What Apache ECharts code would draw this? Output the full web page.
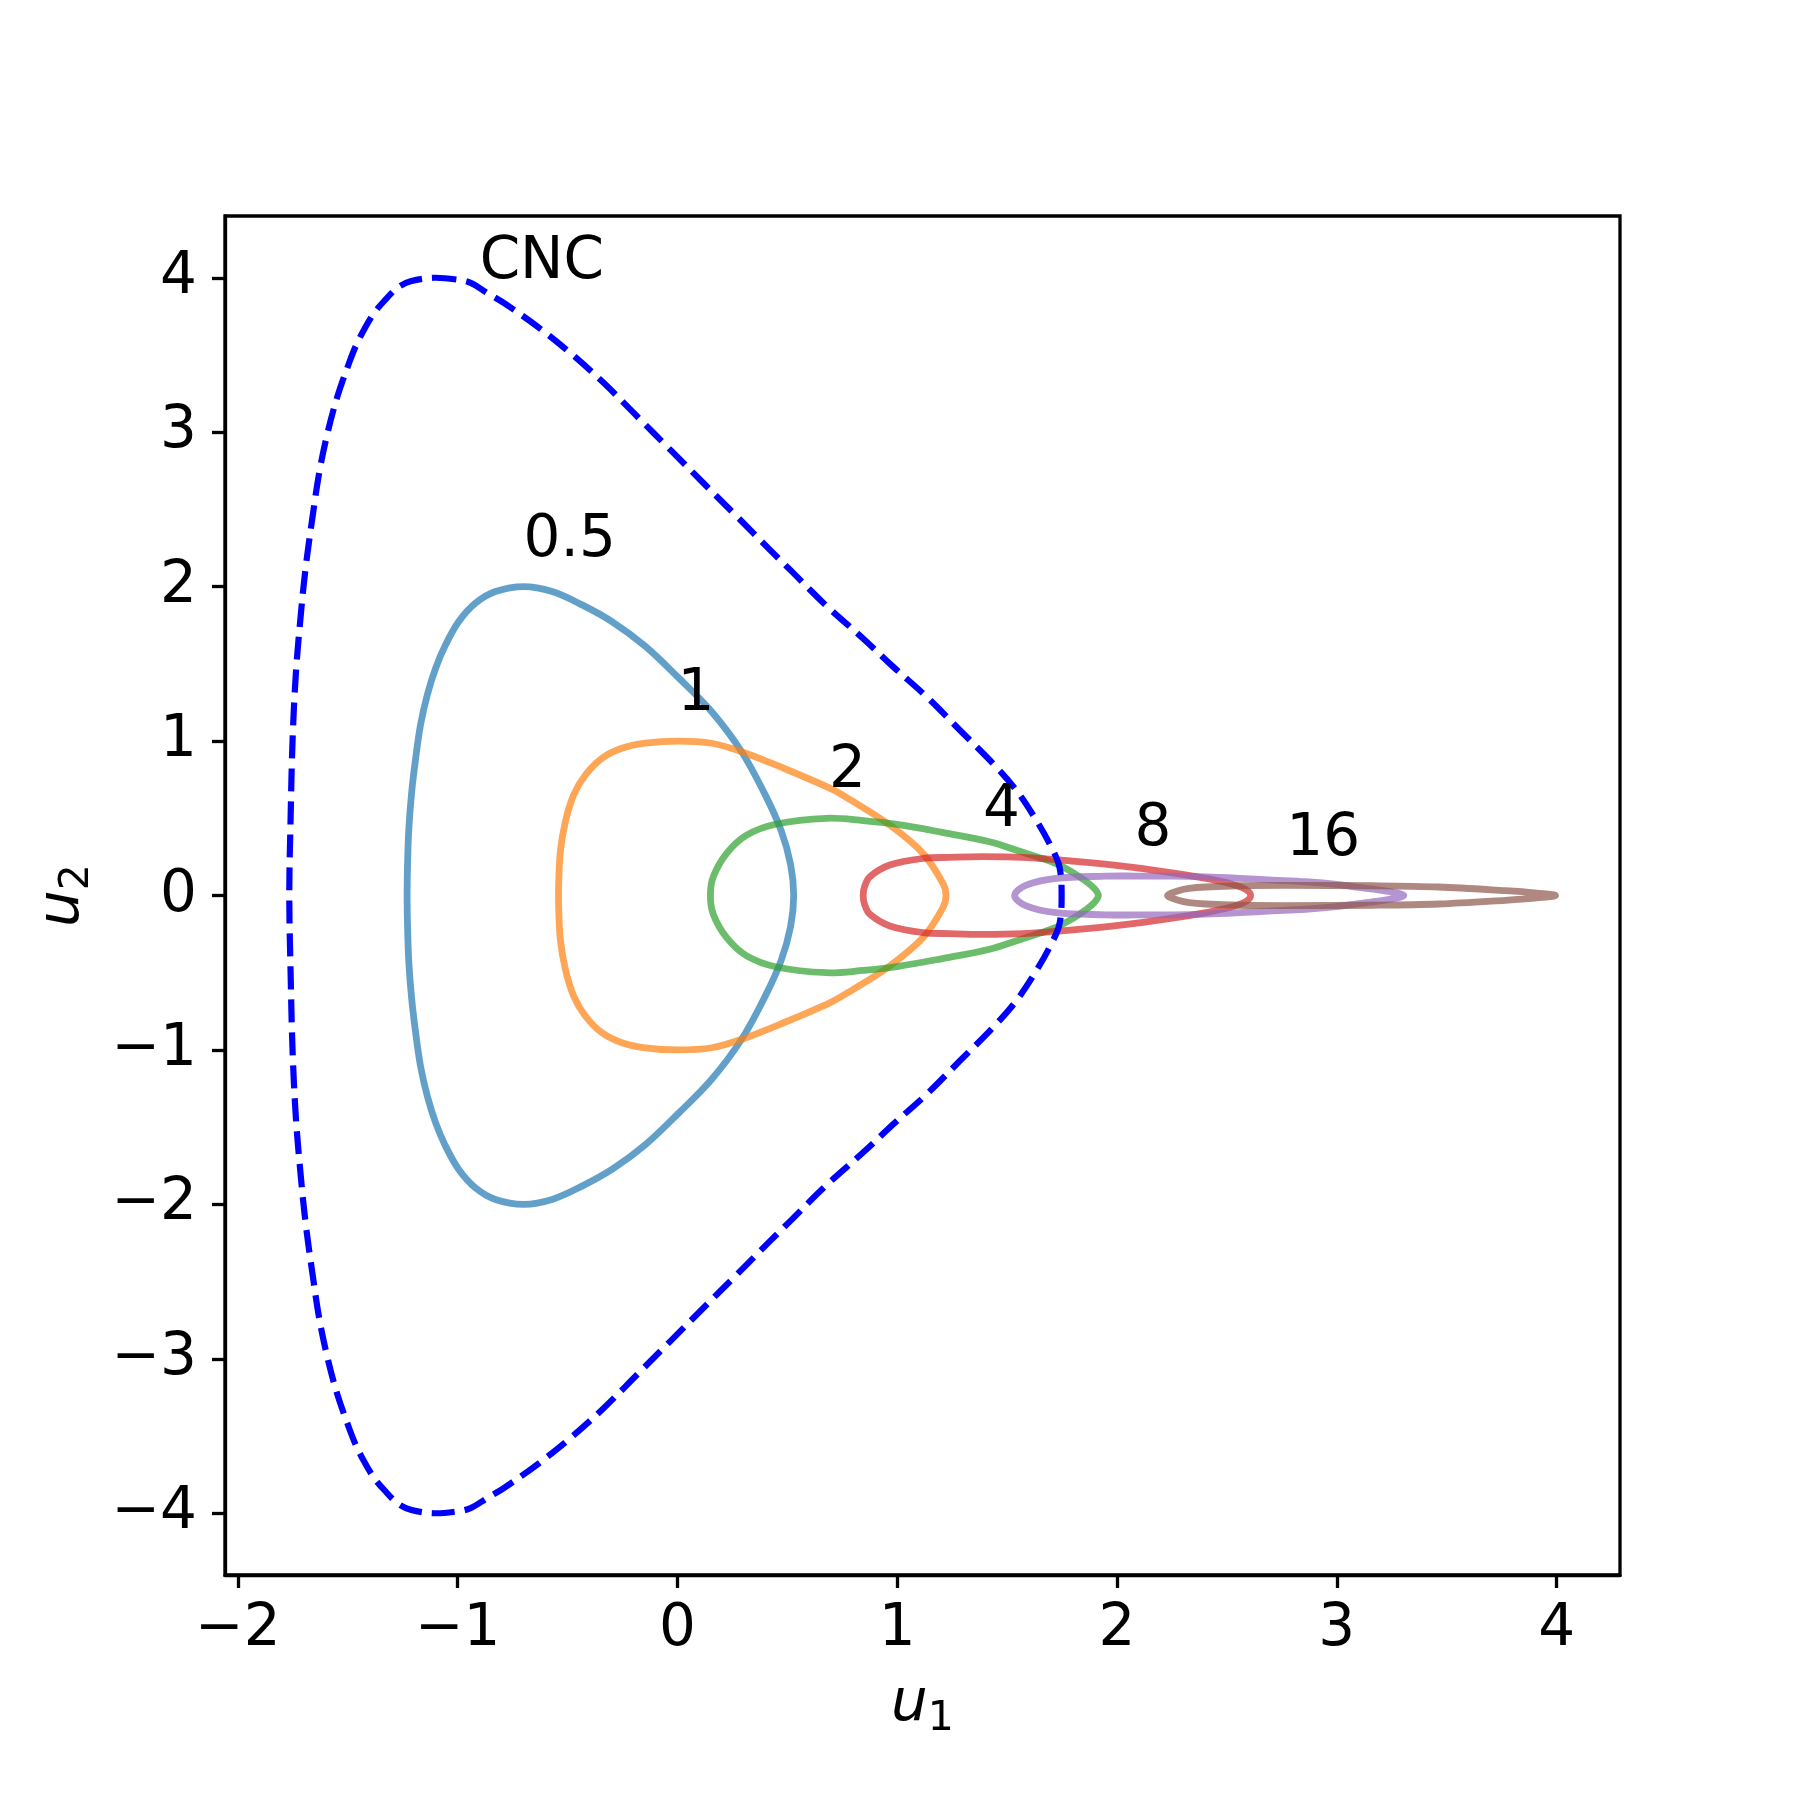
<!DOCTYPE html>
<html>
<head>
<meta charset="utf-8">
<script src="https://cdn.jsdelivr.net/npm/echarts@6/dist/echarts.min.js"></script>
<style>
  html, body { margin: 0; padding: 0; background: #fff; }
  #chart { width: 1800px; height: 1800px; }
</style>
</head>
<body>
<div id="chart"></div>
<script>
// axis ticks
var xTicks = [-2, -1, 0, 1, 2, 3, 4]
var yTicks = [-4, -3, -2, -1, 0, 1, 2, 3, 4]

// closed curves, [u1, u2] (the loop closes back to the first point)
var cncCurve = [
  [-1.11, 4.0], [-1.002, 3.988], [-0.941, 3.967], [-0.866, 3.902], [-0.790, 3.837], [-0.639, 3.686],
  [-0.487, 3.513], [-0.336, 3.32], [-0.184, 3.103], [-0.033, 2.887], [0.118, 2.671], [0.270, 2.455],
  [0.421, 2.238], [0.512, 2.11], [0.671, 1.885], [0.852, 1.655], [0.981, 1.482], [1.133, 1.288],
  [1.284, 1.072], [1.435, 0.856], [1.541, 0.683], [1.632, 0.489], [1.700, 0.316], [1.738, 0.186],
  [1.748, 0],
  [1.738, -0.186], [1.700, -0.316], [1.632, -0.489], [1.541, -0.683], [1.435, -0.856], [1.284, -1.072],
  [1.133, -1.288], [0.981, -1.482], [0.852, -1.655], [0.671, -1.885], [0.512, -2.11], [0.421, -2.238],
  [0.270, -2.455], [0.118, -2.671], [-0.033, -2.887], [-0.184, -3.103], [-0.336, -3.32], [-0.487, -3.513],
  [-0.639, -3.686], [-0.790, -3.837], [-0.866, -3.902], [-0.941, -3.967], [-1.002, -3.988], [-1.11, -4.0],
  [-1.214, -3.977], [-1.274, -3.935], [-1.335, -3.848], [-1.380, -3.772], [-1.426, -3.664], [-1.464, -3.556],
  [-1.494, -3.448], [-1.547, -3.232], [-1.592, -2.995], [-1.630, -2.736], [-1.660, -2.454], [-1.691, -2.13],
  [-1.713, -1.828], [-1.736, -1.439], [-1.751, -1.007], [-1.760, -0.5], [-1.766, 0],
  [-1.760, 0.5], [-1.751, 1.007], [-1.736, 1.439], [-1.713, 1.828], [-1.691, 2.13], [-1.660, 2.454],
  [-1.630, 2.736], [-1.592, 2.995], [-1.547, 3.232], [-1.494, 3.448], [-1.464, 3.556], [-1.426, 3.664],
  [-1.380, 3.772], [-1.335, 3.848], [-1.274, 3.935], [-1.214, 3.977]
]
var curve05 = [
  [-0.699, 2.0], [-0.570, 1.968], [-0.434, 1.882], [-0.298, 1.774], [-0.147, 1.615], [0.005, 1.41],
  [0.156, 1.19], [0.292, 0.931], [0.40, 0.65], [0.472, 0.42], [0.515, 0.2], [0.529, 0],
  [0.515, -0.2], [0.472, -0.42], [0.40, -0.65], [0.292, -0.931], [0.156, -1.19], [0.005, -1.41],
  [-0.147, -1.615], [-0.298, -1.774], [-0.434, -1.882], [-0.570, -1.968], [-0.699, -2.0], [-0.828, -1.968],
  [-0.919, -1.893], [-0.995, -1.774], [-1.055, -1.623], [-1.100, -1.472], [-1.138, -1.299], [-1.169, -1.104],
  [-1.191, -0.889], [-1.209, -0.672], [-1.222, -0.435], [-1.228, -0.197], [-1.23, 0],
  [-1.228, 0.197], [-1.222, 0.435], [-1.209, 0.672], [-1.191, 0.889], [-1.169, 1.104], [-1.138, 1.299],
  [-1.100, 1.472], [-1.055, 1.623], [-0.995, 1.774], [-0.919, 1.893], [-0.828, 1.968]
]
var curve1 = [
  [0, 1.0], [0.156, 0.986], [0.292, 0.931], [0.466, 0.834], [0.693, 0.695], [0.784, 0.622],
  [0.966, 0.456], [1.117, 0.273], [1.208, 0.078], [1.222, 0],
  [1.208, -0.078], [1.117, -0.273], [0.966, -0.456], [0.784, -0.622], [0.693, -0.695], [0.466, -0.834],
  [0.292, -0.931], [0.156, -0.986], [0, -1.0], [-0.147, -0.986], [-0.253, -0.953], [-0.343, -0.889],
  [-0.419, -0.780], [-0.472, -0.651], [-0.510, -0.478], [-0.533, -0.283], [-0.540, -0.089], [-0.541, 0],
  [-0.540, 0.089], [-0.533, 0.283], [-0.510, 0.478], [-0.472, 0.651], [-0.419, 0.780], [-0.343, 0.889],
  [-0.253, 0.953], [-0.147, 0.986]
]
var curve2 = [
  [0.678, 0.5], [0.845, 0.485], [1.0, 0.46], [1.2, 0.41], [1.42, 0.348], [1.55, 0.29],
  [1.647, 0.245], [1.725, 0.205], [1.798, 0.15], [1.86, 0.09], [1.897, 0.045], [1.915, 0],
  [1.897, -0.045], [1.86, -0.09], [1.798, -0.15], [1.725, -0.205], [1.647, -0.245], [1.55, -0.29],
  [1.42, -0.348], [1.2, -0.41], [1.0, -0.46], [0.845, -0.485], [0.678, -0.5], [0.451, -0.463],
  [0.315, -0.391], [0.224, -0.273], [0.163, -0.121], [0.150, 0],
  [0.163, 0.121], [0.224, 0.273], [0.315, 0.391], [0.451, 0.463]
]
var curve4 = [
  [1.386, 0.252], [1.571, 0.247], [1.798, 0.223], [2.025, 0.191], [2.252, 0.147], [2.404, 0.111],
  [2.52, 0.075], [2.585, 0.04], [2.608, 0],
  [2.585, -0.04], [2.52, -0.075], [2.404, -0.111], [2.252, -0.147], [2.025, -0.191], [1.798, -0.223],
  [1.571, -0.247], [1.386, -0.252], [1.238, -0.247], [1.117, -0.24], [0.966, -0.197], [0.875, -0.121],
  [0.852, -0.06], [0.845, 0],
  [0.852, 0.06], [0.875, 0.121], [0.966, 0.197], [1.117, 0.24], [1.238, 0.247]
]
var curve8 = [
  [2.08, 0.126], [2.252, 0.125], [2.404, 0.12], [2.555, 0.111], [2.707, 0.1], [2.858, 0.089],
  [3.010, 0.07], [3.1, 0.052], [3.22, 0.03], [3.305, 0],
  [3.22, -0.03], [3.1, -0.052], [3.010, -0.07], [2.858, -0.089], [2.707, -0.1], [2.555, -0.111],
  [2.404, -0.12], [2.252, -0.125], [2.08, -0.126], [1.95, -0.125], [1.723, -0.111], [1.587, -0.067],
  [1.534, 0],
  [1.587, 0.067], [1.723, 0.111], [1.95, 0.125]
]
var curve16 = [
  [2.77, 0.065], [3.161, 0.063], [3.464, 0.055], [3.767, 0.031], [3.9, 0.017], [3.995, 0],
  [3.9, -0.017], [3.767, -0.031], [3.464, -0.055], [3.161, -0.063], [2.77, -0.065], [2.555, -0.063],
  [2.404, -0.055], [2.328, -0.046], [2.283, -0.033], [2.230, 0],
  [2.283, 0.033], [2.328, 0.046], [2.404, 0.055], [2.555, 0.063]
]

// annotations
var noteText = ['CNC', '0.5', '1', '2', '4', '8', '16']
var noteX = [-0.9, -0.7, 0, 0.69, 1.39, 2.08, 2.77]
var noteY = [4.0, 2.2, 1.2, 0.7, 0.45, 0.325, 0.2625]

var FONT = 'DejaVu Sans'
var minus = function (v) { return String(v).replace('-', '\u2212') }

var chart = echarts.init(document.getElementById('chart'), null, { renderer: 'canvas' })

// one closed smooth loop per series, drawn through the cartesian scales
function loop(name, data, color, opts) {
  opts = opts || {}
  return {
    name: name,
    type: 'custom',
    coordinateSystem: 'cartesian2d',
    data: data,
    encode: { x: 0, y: 1 },
    silent: true,
    z: opts.z || 2,
    renderItem: function (params, api) {
      if (params.dataIndexInside !== 0) return
      var pts = data.map(function (p) { return api.coord(p) })
      return {
        type: 'polygon',
        shape: { points: pts, smooth: 0.35 },
        style: {
          fill: 'none',
          stroke: color,
          lineWidth: opts.width || 6.8,
          lineDash: opts.dash || null,
          lineJoin: 'round',
          opacity: opts.opacity == null ? 0.7 : opts.opacity
        }
      }
    }
  }
}

var notes = noteText.map(function (t, i) { return [noteX[i], noteY[i], t] })

var nameRich = {
  it: { fontStyle: 'italic', fontSize: 58, fontFamily: FONT, color: '#000' },
  sub: { fontSize: 41, fontFamily: FONT, color: '#000', padding: [30, 0, 0, 0] }
}

chart.setOption({
  animation: false,
  backgroundColor: '#fff',
  grid: {
    left: 225, right: 180, top: 216, bottom: 225,
    show: true, borderColor: '#000', borderWidth: 3.3,
    outerBoundsMode: 'none'
  },
  xAxis: {
    type: 'value',
    min: -2.0585,
    max: 4.2885,
    splitLine: { show: false },
    axisLine: { show: true, onZero: false, lineStyle: { color: '#000', width: 3.3 } },
    axisTick: { show: true, length: 13, customValues: xTicks, lineStyle: { color: '#000', width: 3.3 } },
    axisLabel: {
      customValues: xTicks, fontSize: 58, fontFamily: FONT, color: '#000', margin: 26,
      formatter: minus
    },
    name: '{it|u}{sub|1}',
    nameLocation: 'middle',
    nameGap: 94,
    nameTextStyle: { rich: nameRich }
  },
  yAxis: {
    type: 'value',
    min: -4.4,
    max: 4.4,
    splitLine: { show: false },
    axisLine: { show: true, onZero: false, lineStyle: { color: '#000', width: 3.3 } },
    axisTick: { show: true, length: 13, customValues: yTicks, lineStyle: { color: '#000', width: 3.3 } },
    axisLabel: {
      customValues: yTicks, fontSize: 58, fontFamily: FONT, color: '#000', margin: 28,
      formatter: minus
    },
    name: '{it|u}{sub|2}',
    nameLocation: 'middle',
    nameRotate: 90,
    nameGap: 127,
    nameTextStyle: { rich: nameRich }
  },
  series: [
    loop('0.5', curve05, '#1f77b4'),
    loop('1', curve1, '#ff7f0e'),
    loop('2', curve2, '#2ca02c'),
    loop('4', curve4, '#d62728'),
    loop('8', curve8, '#9467bd'),
    loop('16', curve16, '#8c564b'),
    loop('CNC', cncCurve, '#0000ff', { width: 6.2, dash: [23, 10], opacity: 1, z: 3 }),
    {
      type: 'scatter',
      data: notes,
      symbolSize: 0,
      itemStyle: { color: '#000', opacity: 1 },
      label: {
        show: true,
        position: 'right',
        distance: 0,
        offset: [0, -15],
        formatter: function (p) { return p.data[2] },
        fontSize: 58,
        fontFamily: FONT,
        color: '#000',
        opacity: 1
      },
      z: 4,
      silent: true
    }
  ]
})
</script>
</body>
</html>
